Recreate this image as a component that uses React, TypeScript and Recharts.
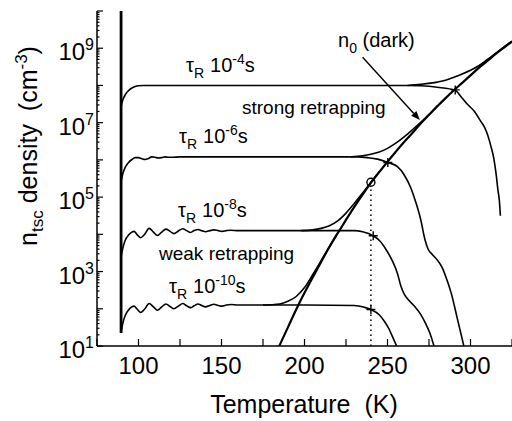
import { useLayoutEffect } from 'react'
import { ComposedChart, Line, XAxis, YAxis, ReferenceLine } from 'recharts'

// temperature (K) and log10 of n_tsc (cm^-3)
const tau4T = [89.5, 90.5, 92, 94, 96, 98, 100, 103, 110, 150, 200, 250, 262, 270, 280, 290.8, 294.4, 298, 302.4, 306, 308.4, 310.5, 312.4, 314, 315.4, 316.5, 317.4, 318]
const tau4Log = [7.44, 7.6, 7.75, 7.86, 7.93, 7.97, 7.99, 8.0, 8.0, 8.0, 8.0, 8.0, 8.0, 7.99, 7.95, 7.87, 7.69, 7.5, 7.3, 7.05, 6.88, 6.65, 6.35, 6.05, 5.63, 5.2, 4.9, 4.5]

const tau6T = [89.5, 90.5, 92, 94, 96, 98, 100, 102, 104, 106, 108, 110, 112, 114, 116, 118, 120, 125, 130, 180, 232, 238, 244, 250.2, 256, 260, 264, 267, 270, 272.5, 274.5, 277, 280, 283, 286, 288.5, 292, 296]
const tau6Log = [5.42, 5.62, 5.8, 5.93, 6.01, 6.06, 6.06, 6.03, 6.01, 6.04, 6.08, 6.07, 6.05, 6.06, 6.08, 6.07, 6.07, 6.08, 6.08, 6.08, 6.08, 6.06, 6.02, 5.93, 5.82, 5.6, 5.25, 4.87, 4.4, 3.87, 3.6, 3.46, 3.31, 3.1, 2.75, 2.4, 1.75, 1.0]

const tau8T = [89.5, 90.5, 92, 94, 96, 97.3, 99, 101.2, 103.5, 106.4, 109, 111.4, 114, 116.5, 119, 121.4, 124, 126.7, 129, 131.4, 133.5, 135.8, 138, 140.4, 143, 145.4, 148, 150.4, 153, 155.5, 160, 170, 200, 230, 235, 241.4, 245, 249, 253, 256, 258, 260, 263, 266, 270, 273, 275.5, 278]
const tau8Log = [3.4, 3.62, 3.84, 3.98, 4.06, 4.08, 4.0, 3.91, 3.99, 4.16, 4.06, 3.97, 4.06, 4.14, 4.08, 4.02, 4.09, 4.15, 4.1, 4.05, 4.1, 4.13, 4.1, 4.07, 4.1, 4.12, 4.1, 4.08, 4.1, 4.11, 4.1, 4.1, 4.1, 4.1, 4.07, 3.96, 3.84, 3.6, 3.28, 2.95, 2.62, 2.4, 2.22, 2.08, 1.85, 1.6, 1.35, 1.0]

const tau10T = [89.5, 90.5, 92, 94, 96, 97.3, 99, 101.2, 103.5, 106.4, 109, 111.4, 114, 116.5, 119, 121.4, 124, 126.7, 129, 131.4, 133.5, 135.8, 138, 140.4, 143, 145.4, 148, 150.4, 153, 155.5, 160, 170, 200, 230, 236, 240, 245, 248, 251, 253, 255.5]
const tau10Log = [1.35, 1.6, 1.82, 1.97, 2.05, 2.07, 2.0, 1.9, 1.98, 2.14, 2.05, 1.96, 2.05, 2.13, 2.06, 2.0, 2.07, 2.14, 2.08, 2.03, 2.08, 2.13, 2.09, 2.05, 2.09, 2.12, 2.09, 2.07, 2.1, 2.115, 2.1, 2.1, 2.1, 2.09, 2.04, 1.98, 1.84, 1.67, 1.45, 1.25, 1.0]

// upper branches (trapped + dark) that run into n0
const up4T = [262, 270, 280, 285, 290, 295, 300, 305, 310, 315, 320, 325]
const up4Log = [8.0, 8.03, 8.09, 8.14, 8.22, 8.31, 8.41, 8.53, 8.69, 8.86, 9.03, 9.19]
const up6T = [228, 235, 240, 245, 250, 255, 260, 265, 270, 275, 280]
const up6Log = [6.08, 6.11, 6.15, 6.21, 6.31, 6.45, 6.62, 6.81, 7.01, 7.22, 7.45]
const up8T = [198, 205, 210, 215, 220, 225, 230, 235, 240, 245]
const up8Log = [4.1, 4.12, 4.16, 4.23, 4.36, 4.57, 4.83, 5.11, 5.4, 5.68]
const up10T = [175, 185, 190, 195, 200, 205, 210, 215, 220]
const up10Log = [2.1, 2.13, 2.2, 2.33, 2.57, 2.92, 3.29, 3.67, 4.04]

// n0 (dark)
const n0T = [184.8, 190, 195, 200, 205, 210, 215, 220, 225, 230, 235, 240, 245, 250, 255, 260, 265, 270, 275, 280, 285, 290, 295, 300, 305, 310, 315, 320, 325]
const n0Log = [1.0, 1.5, 1.98, 2.43, 2.85, 3.26, 3.66, 4.03, 4.39, 4.74, 5.07, 5.38, 5.67, 5.95, 6.22, 6.48, 6.72, 6.98, 7.21, 7.44, 7.66, 7.87, 8.07, 8.27, 8.47, 8.65, 8.84, 9.01, 9.18]

const riseT = [89.5, 89.5]
const riseLog = [1.35, 10]
const dropT = [240, 240]
const dropLog = [1, 5.3]
const crossT = [290.8, 250.2, 241.4, 240]
const crossLog = [7.88, 5.93, 3.96, 1.98]
const circleT = [240]
const circleLog = [5.4]

const xTicks = [75, 100, 125, 150, 175, 200, 225, 250, 275, 300, 325]
const xLabels = [100, 150, 200, 250, 300]
const decades = [1, 2, 3, 4, 5, 6, 7, 8, 9, 10]

const FONT = '"Liberation Sans", Arial, Helvetica, sans-serif'

const zip = (t: number[], v: number[]) => t.map((T, i) => ({ T, v: v[i] }))

const minorTicks: number[] = []
decades.slice(0, 9).forEach((d) => {
  for (let k = 1; k < 10; k++) minorTicks.push(d + Math.log10(k))
})
minorTicks.push(10)

const isMajor = (v: number) => Math.abs(v - Math.round(v)) < 1e-6

const LeftTick = ({ x, y, payload }: any) => {
  const v = payload.value
  const major = isMajor(v)
  const e = Math.round(v)
  return (
    <g>
      <line x1={x} y1={y} x2={x + (major ? 6 : 2.5)} y2={y} stroke="#000" strokeWidth={1.2} />
      {major && e % 2 === 1 && e < 10 && (
        <text x={x - 3} y={y + 12} textAnchor="end" fontSize={24} fontFamily={FONT} fill="#000">
          10<tspan fontSize={16} dy={-10}>{e}</tspan>
        </text>
      )}
    </g>
  )
}

const RightTick = ({ x, y }: any) => (
  <line x1={x} y1={y} x2={x - 7} y2={y} stroke="#000" strokeWidth={1.2} />
)

const BottomTick = ({ x, y, payload }: any) => (
  <g>
    <line x1={x} y1={y} x2={x} y2={y - 7} stroke="#000" strokeWidth={1.2} />
    {xLabels.includes(payload.value) && (
      <text x={x} y={y + 28} textAnchor="middle" fontSize={24} fontFamily={FONT} fill="#000">
        {payload.value}
      </text>
    )}
  </g>
)

const TopTick = ({ x, y }: any) => (
  <line x1={x} y1={y} x2={x} y2={y + 6} stroke="#000" strokeWidth={1.2} />
)

const crossDot = (p: any) => (
  <path
    key={`x${p.index}`}
    d={`M${p.cx - 4.5},${p.cy}h9M${p.cx},${p.cy - 4.5}v9`}
    stroke="#000"
    strokeWidth={1.4}
    fill="none"
  />
)

const ringDot = (p: any) => (
  <circle key={`o${p.index}`} cx={p.cx} cy={p.cy} r={4} fill="none" stroke="#000" strokeWidth={1.4} />
)

const arrowShape = (p: any) => {
  const { x1, y1, x2, y2 } = p
  const a = Math.atan2(y2 - y1, x2 - x1)
  const L = 9
  const w = 3.5
  const bx = x2 - L * Math.cos(a)
  const by = y2 - L * Math.sin(a)
  const px = -Math.sin(a) * w
  const py = Math.cos(a) * w
  return (
    <g>
      <line x1={x1} y1={y1} x2={bx} y2={by} stroke="#000" strokeWidth={1.4} />
      <polygon points={`${x2},${y2} ${bx + px},${by + py} ${bx - px},${by - py}`} fill="#000" />
    </g>
  )
}

const curves = [
  { id: 't4', T: tau4T, v: tau4Log },
  { id: 't6', T: tau6T, v: tau6Log },
  { id: 't8', T: tau8T, v: tau8Log },
  { id: 't10', T: tau10T, v: tau10Log },
  { id: 'u4', T: up4T, v: up4Log },
  { id: 'u6', T: up6T, v: up6Log },
  { id: 'u8', T: up8T, v: up8Log },
  { id: 'u10', T: up10T, v: up10Log },
]

const TauLabel = ({ x, y, exp }: { x: number; y: number; exp: string }) => (
  <text x={x} y={y} fontSize={20} fontFamily={FONT} fill="#000">
    τ<tspan fontSize={14} dy={6}>R</tspan>
    <tspan dy={-6} dx={6}>10</tspan>
    <tspan fontSize={14} dy={-8}>{exp}</tspan>
    <tspan dy={8}>s</tspan>
  </text>
)

export default function App() {
  useLayoutEffect(() => {
    document.body.style.margin = '0'
    document.body.style.overflow = 'hidden'
  }, [])

  return (
    <div style={{ position: 'relative', width: 512, height: 421, background: '#fff' }}>
      <ComposedChart width={512} height={421} margin={{ top: 11, right: 0, bottom: 0, left: 0 }}>
        <XAxis
          xAxisId={0}
          type="number"
          dataKey="T"
          domain={[75, 325]}
          allowDataOverflow
          ticks={xTicks}
          interval={0}
          height={75}
          tickSize={0}
          tickMargin={0}
          tickLine={false}
          axisLine={{ stroke: '#000', strokeWidth: 1.5 }}
          tick={<BottomTick />}
        />
        <XAxis
          xAxisId="top"
          orientation="top"
          type="number"
          dataKey="T"
          domain={[75, 325]}
          allowDataOverflow
          ticks={xTicks}
          interval={0}
          height={0}
          tickSize={0}
          tickMargin={0}
          tickLine={false}
          axisLine={{ stroke: '#000', strokeWidth: 1.5 }}
          tick={<TopTick />}
        />
        <YAxis
          yAxisId={0}
          type="number"
          dataKey="v"
          domain={[1, 10]}
          allowDataOverflow
          ticks={minorTicks}
          interval={0}
          width={97}
          tickSize={0}
          tickMargin={0}
          tickLine={false}
          axisLine={{ stroke: '#000', strokeWidth: 1.5 }}
          tick={<LeftTick />}
        />
        <YAxis
          yAxisId="right"
          orientation="right"
          type="number"
          dataKey="v"
          domain={[1, 10]}
          allowDataOverflow
          ticks={decades}
          interval={0}
          width={0}
          tickSize={0}
          tickMargin={0}
          tickLine={false}
          axisLine={{ stroke: '#000', strokeWidth: 1.5 }}
          tick={<RightTick />}
        />
        {curves.map((c) => (
          <Line
            key={c.id}
            data={zip(c.T, c.v)}
            dataKey="v"
            type="monotone"
            stroke="#000"
            strokeWidth={1.6}
            dot={false}
            activeDot={false}
            isAnimationActive={false}
          />
        ))}
        <Line
          data={zip(n0T, n0Log)}
          dataKey="v"
          type="monotone"
          stroke="#000"
          strokeWidth={2.2}
          dot={false}
          activeDot={false}
          isAnimationActive={false}
        />
        <Line
          xAxisId="top"
          yAxisId="right"
          data={zip(riseT, riseLog)}
          dataKey="v"
          type="linear"
          stroke="#000"
          strokeWidth={2.8}
          dot={false}
          activeDot={false}
          isAnimationActive={false}
        />
        <Line
          data={zip(dropT, dropLog)}
          dataKey="v"
          type="linear"
          stroke="#000"
          strokeWidth={1.5}
          strokeDasharray="1.5 3.5"
          dot={false}
          activeDot={false}
          isAnimationActive={false}
        />
        <Line
          data={zip(crossT, crossLog)}
          dataKey="v"
          stroke="none"
          dot={crossDot}
          activeDot={false}
          isAnimationActive={false}
        />
        <Line
          data={zip(circleT, circleLog)}
          dataKey="v"
          stroke="none"
          dot={ringDot}
          activeDot={false}
          isAnimationActive={false}
        />
        <ReferenceLine
          segment={[
            { x: 235, y: 8.76 },
            { x: 269.5, y: 7.07 },
          ]}
          shape={arrowShape}
        />
      </ComposedChart>
      <svg
        width={512}
        height={421}
        style={{ position: 'absolute', left: 0, top: 0, pointerEvents: 'none' }}
      >
        <text
          x={37}
          y={146}
          transform="rotate(-90 37 146)"
          textAnchor="middle"
          fontSize={25}
          fontFamily={FONT}
          fill="#000"
        >
          n<tspan fontSize={17} dy={6}>tsc</tspan>
          <tspan dy={-6}> density </tspan>
          <tspan dx={6}>(cm</tspan>
          <tspan fontSize={17} dy={-10}>-3</tspan>
          <tspan dy={10}>)</tspan>
        </text>
        <text x={304} y={413} textAnchor="middle" fontSize={25} fontFamily={FONT} fill="#000">
          Temperature<tspan dx={14}>(K)</tspan>
        </text>
        <TauLabel x={186} y={72} exp="-4" />
        <TauLabel x={179} y={143} exp="-6" />
        <TauLabel x={178} y={217} exp="-8" />
        <TauLabel x={169} y={293} exp="-10" />
        <text x={242} y={114} fontSize={19} fontFamily={FONT} fill="#000">
          strong retrapping
        </text>
        <text x={159} y={260} fontSize={19} fontFamily={FONT} fill="#000">
          weak retrapping
        </text>
        <text x={338} y={47} fontSize={20} fontFamily={FONT} fill="#000">
          n<tspan fontSize={14} dy={6}>0</tspan>
          <tspan dy={-6}> (dark)</tspan>
        </text>
      </svg>
    </div>
  )
}
